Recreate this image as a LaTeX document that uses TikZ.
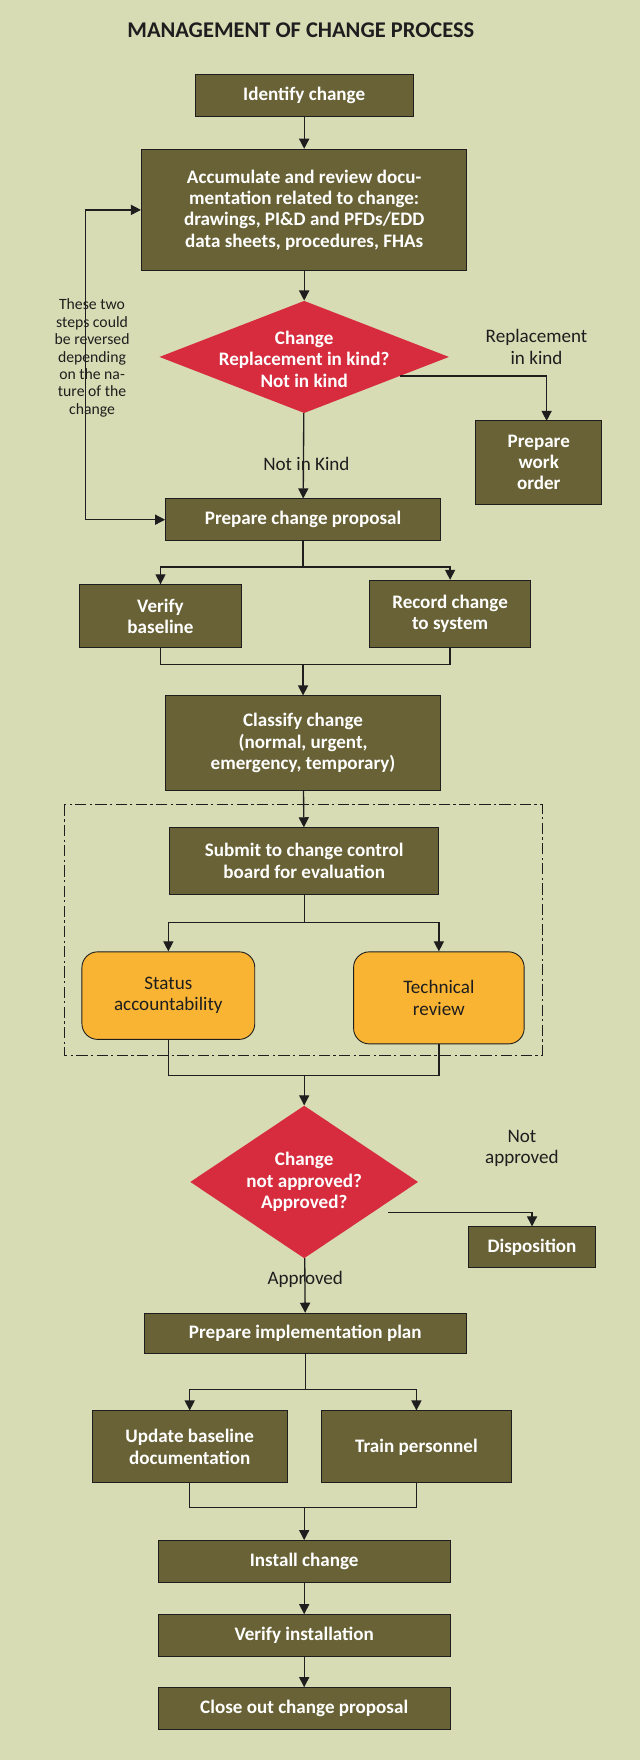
\documentclass[tikz,border=0pt]{standalone}
\usepackage{fontspec}
\setmainfont{Carlito}
\usetikzlibrary{shapes.geometric,arrows.meta}
\definecolor{bg}{RGB}{216,220,180}
\definecolor{olive}{RGB}{104,98,54}
\definecolor{redd}{RGB}{214,44,62}
\definecolor{orng}{RGB}{250,180,52}
\definecolor{ink}{RGB}{30,30,30}
\begin{document}
\begin{tikzpicture}[x=1pt,y=-1pt,
 box/.style={draw=ink,line width=0.8pt,fill=olive,text=white,font=\fontsize{17}{19}\selectfont\bfseries,align=center,inner sep=0pt},
 dia/.style={diamond,fill=redd,text=white,font=\fontsize{17}{19}\selectfont\bfseries,align=center,inner sep=0pt},
 rnd/.style={draw=ink,line width=0.8pt,fill=orng,rounded corners=14pt,text=ink,font=\fontsize{17}{19}\selectfont,align=center,inner sep=0pt},
 lbl/.style={text=ink,font=\fontsize{17}{19}\selectfont,align=center},
 ln/.style={draw=ink,line width=1.2pt},
 ar/.style={ln,-{Triangle[length=9pt,width=9pt]}}]
\fill[bg] (0,0) rectangle (570,1568);
\useasboundingbox (0,0) rectangle (570,1568);
\node[text=ink,font=\fontsize{20}{22}\selectfont\bfseries] (title) at (268,27) {MANAGEMENT OF CHANGE PROCESS};
\node[box,minimum width=194,minimum height=37] (ident) at (271,85) {Identify change};
\node[box,minimum width=290,minimum height=108] (acc) at (271,187) {Accumulate and review docu-\\mentation related to change:\\drawings, PI\&D and PFDs/EDD\\data sheets, procedures, FHAs};
\node[dia,minimum width=258,minimum height=100] (d1) at (271,318) {};
\node[text=white,font=\fontsize{17}{19}\selectfont\bfseries,align=center] (d1t) at (271,320) {Change\\Replacement in kind?\\Not in kind};
\node[box,minimum width=112,minimum height=74] (wo) at (480,412) {Prepare\\work\\order};
\node[lbl] (rik) at (478,309) {Replacement\\in kind};
\node[lbl,font=\fontsize{14}{15.5}\selectfont] (note) at (82,319) {These two\\steps could\\be reversed\\depending\\on the na-\\ture of the\\change};
\node[lbl] (nik) at (273,413) {Not in Kind};
\node[box,minimum width=245,minimum height=37] (prop) at (270,463) {Prepare change proposal};
\node[box,minimum width=144,minimum height=56] (vb) at (143,549) {Verify\\baseline};
\node[box,minimum width=144,minimum height=60] (rc) at (401,547) {Record change\\to system};
\node[box,minimum width=245,minimum height=84] (cls) at (270,662) {Classify change\\(normal, urgent,\\emergency, temporary)};
\draw[ink,line width=0.8pt,dash pattern=on 10pt off 3pt on 2pt off 3pt] (57,717) rectangle (483,940);
\node[box,minimum width=240,minimum height=59] (sub) at (271,767) {Submit to change control\\board for evaluation};
\node[rnd,minimum width=154,minimum height=78] (st) at (150,887) {Status\\accountability};
\node[rnd,minimum width=152,minimum height=82] (tr) at (391,889) {Technical\\review};
\node[dia,minimum width=203,minimum height=136] (d2) at (271,1053) {};
\node[text=white,font=\fontsize{17}{19}\selectfont\bfseries,align=center] (d2t) at (271,1053) {Change\\not approved?\\Approved?};
\node[lbl] (na) at (465,1023) {Not\\approved};
\node[box,minimum width=113,minimum height=36] (disp) at (474,1111) {Disposition};
\node[lbl] (appr) at (272,1140) {Approved};
\node[box,minimum width=287,minimum height=36] (impl) at (272,1188) {Prepare implementation plan};
\node[box,minimum width=174,minimum height=64] (ub) at (169,1289) {Update baseline\\documentation};
\node[box,minimum width=170,minimum height=64] (tp) at (371,1289) {Train personnel};
\node[box,minimum width=260,minimum height=37] (inst) at (271,1391) {Install change};
\node[box,minimum width=260,minimum height=37] (vi) at (271,1457) {Verify installation};
\node[box,minimum width=260,minimum height=37] (co) at (271,1522) {Close out change proposal};
% connectors
\draw[ar] (ident) -- (acc);
\draw[ar] (acc) -- (d1);
\coordinate (e1) at (356,335);
\draw[ar] (e1) -- (487,335) -- (487,375);
\draw[ar] (d1) -- (prop);
\draw[ln,{Triangle[length=9pt,width=9pt]}-{Triangle[length=9pt,width=9pt]}] (acc.west) -- (76,187) -- (76,463) -- (prop.west);
\coordinate (s1) at (270,505);
\draw[ln] (prop) -- (s1);
\draw[ar] (s1) -| (vb);
\draw[ar] (s1) -| (rc);
\coordinate (j1) at (270,592);
\draw[ln] (vb.south) |- (j1) -| (rc.south);
\draw[ar] (j1) -- (cls);
\draw[ar] (cls) -- (sub);
\coordinate (s2) at (271,822);
\draw[ln] (sub) -- (s2);
\draw[ar] (s2) -| (st);
\draw[ar] (s2) -| (tr);
\coordinate (j2) at (271,958);
\draw[ln] (st.south) |- (j2) -| (tr.south);
\draw[ar] (j2) -- (d2);
\coordinate (e2) at (346,1080);
\draw[ar] (e2) -- (474,1080) -- (disp);
\draw[ar] (d2) -- (impl);
\coordinate (s3) at (272,1238);
\draw[ln] (impl) -- (s3);
\draw[ar] (s3) -| (ub);
\draw[ar] (s3) -| (tp);
\coordinate (j3) at (271,1343);
\draw[ln] (ub.south) |- (j3) -| (tp.south);
\draw[ar] (j3) -- (inst);
\draw[ar] (inst) -- (vi);
\draw[ar] (vi) -- (co);
\end{tikzpicture}
\end{document}
